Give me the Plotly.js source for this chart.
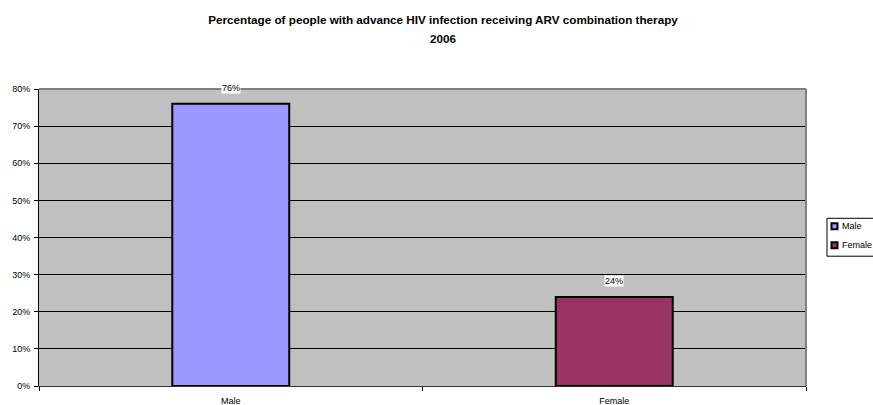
<!DOCTYPE html>
<html>
<head>
<meta charset="utf-8">
<script src="https://cdn.plot.ly/plotly-3.0.1.min.js"></script>
<style>html,body{margin:0;padding:0;background:#fff;}#chart{width:873px;height:405px;}</style>
</head>
<body>
<div id="chart"></div>
<script>
const categories = ["Male", "Female"];
const values = [0.76, 0.24];
const labels = ["76%", "24%"];
const colors = ["#9999FF", "#993366"];
const yTicks = [0, 0.1, 0.2, 0.3, 0.4, 0.5, 0.6, 0.7, 0.8];
const yTickText = ["0%", "10%", "20%", "30%", "40%", "50%", "60%", "70%", "80%"];
const titleLine1 = "Percentage of people with advance HIV infection receiving ARV combination therapy";
const titleLine2 = "2006";

const FONT = "Liberation Sans, Arial, sans-serif";

// plot-area geometry (pixels) used to convert legend placement to paper coords
const W = 873, H = 405;
const PL = 38.5, PR = 806, PT = 88.5, PB = 386;
const px = v => (v - PL) / (PR - PL);
const py = v => (PB - v) / (PB - PT);

const traces = categories.map((c, i) => ({
  type: "bar",
  name: c,
  x: [c],
  y: [values[i]],
  width: 0.305,
  marker: { color: colors[i], line: { color: "#000", width: 2 } },
  hoverinfo: "skip",
  showlegend: false
}));

const annotations = categories.map((c, i) => ({
  x: c, y: values[i], xref: "x", yref: "y",
  text: labels[i], showarrow: false,
  yanchor: "bottom", yshift: 10,
  bgcolor: "#fff", borderpad: 0,
  font: { family: FONT, size: 9, color: "#000" }
}));

annotations.push({
  xref: "paper", yref: "paper", x: px(443), y: py(38),
  xanchor: "center", yanchor: "middle", showarrow: false,
  text: "<b>" + titleLine2 + "</b>",
  font: { family: FONT, size: 11.7, color: "#000" }
});

const shapes = [
  { type: "line", xref: "paper", yref: "paper", x0: 0, x1: 1, y0: 1, y1: 1, line: { color: "#808080", width: 2 }, layer: "above" },
  { type: "line", xref: "paper", yref: "paper", x0: 1, x1: 1, y0: 0, y1: 1, line: { color: "#808080", width: 2 }, layer: "above" },
  // legend box
  { type: "rect", xref: "paper", yref: "paper", x0: px(827), x1: px(874), y0: py(256), y1: py(218),
    line: { color: "#000", width: 1 }, fillcolor: "#fff", layer: "above" }
];

const legendY = [226, 245];
categories.forEach((c, i) => {
  shapes.push({ type: "rect", xref: "paper", yref: "paper",
    x0: px(831.5), x1: px(837.5), y0: py(legendY[i] + 3), y1: py(legendY[i] - 3),
    line: { color: "#000", width: 2 }, fillcolor: colors[i], layer: "above" });
  annotations.push({ xref: "paper", yref: "paper", x: px(840.5), y: py(legendY[i]),
    xanchor: "left", yanchor: "middle", showarrow: false, text: c,
    font: { family: FONT, size: 9, color: "#000" } });
});

const layout = {
  width: W, height: H,
  paper_bgcolor: "#fff",
  plot_bgcolor: "#C0C0C0",
  margin: { l: PL, r: W - PR, t: PT, b: H - PB, pad: 0, autoexpand: false },
  title: {
    text: "<b>" + titleLine1 + "</b>",
    font: { family: FONT, size: 11.7, color: "#000" },
    x: 443 / W, xanchor: "center", y: 1 - 20 / H, yanchor: "middle"
  },
  showlegend: false,
  bargap: 0,
  xaxis: {
    type: "category",
    range: [-0.5, 1.5],
    tickson: "boundaries",
    ticks: "outside", ticklen: 4, tickcolor: "#000",
    showline: true, linecolor: "#333", linewidth: 1,
    showgrid: false, zeroline: false,
    ticklabelstandoff: 6,
    tickfont: { family: FONT, size: 9, color: "#000" },
    fixedrange: true
  },
  yaxis: {
    range: [0, 0.8],
    tickvals: yTicks, ticktext: yTickText,
    ticks: "outside", ticklen: 4, tickcolor: "#000",
    showline: true, linecolor: "#000", linewidth: 1,
    showgrid: true, gridcolor: "#000", gridwidth: 1,
    zeroline: false,
    ticklabelstandoff: 2,
    tickfont: { family: FONT, size: 9, color: "#000" },
    fixedrange: true
  },
  shapes: shapes,
  annotations: annotations
};

Plotly.newPlot("chart", traces, layout, { staticPlot: true, displayModeBar: false });
</script>
</body>
</html>
